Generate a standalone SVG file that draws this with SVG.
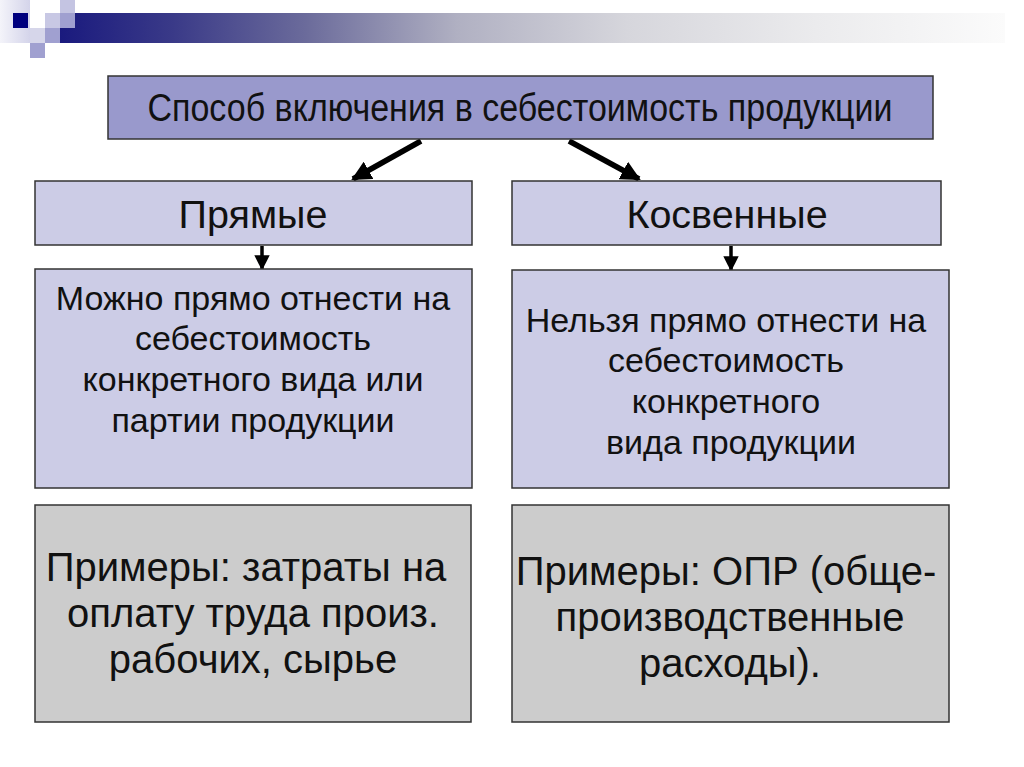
<svg xmlns="http://www.w3.org/2000/svg" width="1024" height="767" viewBox="0 0 1024 767">
<defs>
<linearGradient id="bar" x1="60" y1="0" x2="1005" y2="0" gradientUnits="userSpaceOnUse">
<stop offset="0" stop-color="#1a1a7e"/>
<stop offset="0.12" stop-color="#3a3a88"/>
<stop offset="0.26" stop-color="#6b6b9b"/>
<stop offset="0.42" stop-color="#b0b0c2"/>
<stop offset="0.6" stop-color="#d6d6dc"/>
<stop offset="0.8" stop-color="#ebebed"/>
<stop offset="1" stop-color="#fbfbfb"/>
</linearGradient>
<linearGradient id="sq" x1="0" y1="0" x2="1" y2="0">
<stop offset="0" stop-color="#f4f4fa"/>
<stop offset="1" stop-color="#d4d4ea"/>
</linearGradient>
<marker id="ah" viewBox="0 0 10 10" refX="9" refY="5" markerWidth="3.6" markerHeight="3.6" orient="auto" markerUnits="strokeWidth">
<path d="M0,0 L10,5 L0,10 z" fill="#000"/>
</marker>
<marker id="ahs" viewBox="0 0 10 10" refX="9" refY="5" markerWidth="4.4" markerHeight="5" orient="auto" markerUnits="strokeWidth">
<path d="M0,0 L10,5 L0,10 z" fill="#000"/>
</marker>
</defs>
<style>
.box{stroke:#333;stroke-width:1.5}
.top{fill:#9999cc}
.lav{fill:#ccccE6}
.gray{fill:#cccccc}
text{font-family:"Liberation Sans",Arial,sans-serif;fill:#111;text-anchor:middle}
.t3{font-size:34px}
.t4{font-size:40px}
.t2{font-size:39.5px}
</style>
<rect width="1024" height="767" fill="#ffffff"/>
<g id="header-decoration">
<rect x="60" y="13" width="945" height="30" fill="url(#bar)"/>
<rect x="0" y="0" width="30" height="43" fill="url(#sq)"/>
<rect x="13" y="13" width="15" height="15" fill="#00007e"/>
<rect x="45" y="13" width="15" height="15" fill="#c8c8e4"/>
<rect x="60" y="0" width="15" height="13" fill="#c4c4e2"/>
<rect x="60" y="13" width="15" height="15" fill="#a0a0d0"/>
<rect x="30" y="28" width="15" height="15" fill="#d6d6ea"/>
<rect x="45" y="28" width="15" height="15" fill="#a0a0d0"/>
<rect x="30" y="43" width="15" height="15" fill="#a0a0d0"/>
</g>
<g id="connectors" stroke="#000" fill="none">
<line x1="421" y1="141" x2="353" y2="179" stroke-width="5.5" marker-end="url(#ah)"/>
<line x1="569" y1="141" x2="639" y2="179" stroke-width="5.5" marker-end="url(#ah)"/>
<line x1="262" y1="246" x2="262" y2="269" stroke-width="3.5" marker-end="url(#ahs)"/>
<line x1="731" y1="246" x2="731" y2="270" stroke-width="3.5" marker-end="url(#ahs)"/>
</g>
<g id="title">
<rect class="box top" x="108" y="76" width="825" height="63"/>
<text x="520" y="121" style="font-size:38px" textLength="745" lengthAdjust="spacingAndGlyphs">Способ включения в себестоимость продукции</text>
</g>
<g id="direct">
<rect class="box lav" x="35" y="181" width="437" height="64"/>
<text class="t2" x="253" y="228">Прямые</text>
</g>
<g id="indirect">
<rect class="box lav" x="512" y="181" width="429" height="64"/>
<text class="t2" x="727" y="228">Косвенные</text>
</g>
<g id="direct-desc">
<rect class="box lav" x="35" y="269" width="437" height="219"/>
<text class="t3" x="253" y="310">Можно прямо отнести на</text>
<text class="t3" x="253" y="350">себестоимость</text>
<text class="t3" x="253" y="391">конкретного вида или</text>
<text class="t3" x="253" y="432">партии продукции</text>
</g>
<g id="indirect-desc">
<rect class="box lav" x="512" y="270" width="437" height="218"/>
<text class="t3" x="726" y="332">Нельзя прямо отнести на</text>
<text class="t3" x="726" y="372">себестоимость</text>
<text class="t3" x="726" y="413">конкретного</text>
<text class="t3" x="731" y="454">вида продукции</text>
</g>
<g id="direct-examples">
<rect class="box gray" x="35" y="505" width="436" height="217"/>
<text class="t4" x="246" y="581">Примеры: затраты на</text>
<text class="t4" x="253" y="627">оплату труда произ.</text>
<text class="t4" x="253" y="673">рабочих, сырье</text>
</g>
<g id="indirect-examples">
<rect class="box gray" x="512" y="505" width="437" height="217"/>
<text class="t4" x="726" y="585">Примеры: ОПР (обще-</text>
<text class="t4" x="730" y="631">производственные</text>
<text class="t4" x="730" y="677">расходы).</text>
</g>
</svg>
